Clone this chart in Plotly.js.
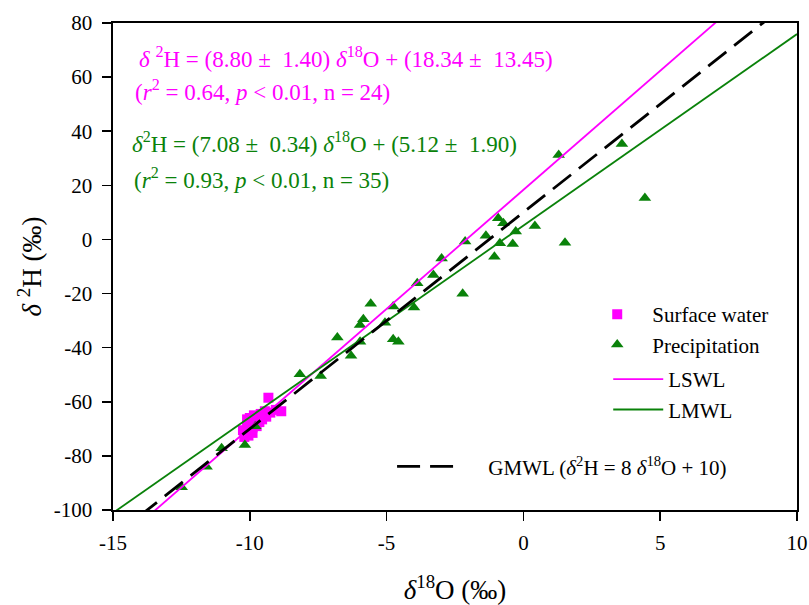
<!DOCTYPE html>
<html><head><meta charset="utf-8">
<script src="https://cdn.plot.ly/plotly-3.0.1.min.js"></script>
<style>html,body{margin:0;padding:0;background:#fff}</style>
</head><body><div id="chart" style="width:809px;height:605px"></div>
<script>
// Surface water samples (delta18O, delta2H)
const surfaceO18 = [-9.32, -8.85, -9.05, -9.25, -9.45, -9.60, -9.70, -9.85, -10.00, -9.55, -9.80, -9.95,
                    -10.10, -9.75, -10.00, -10.15, -9.90, -10.05, -10.20, -9.65, -10.10, -9.40, -9.90, -10.25];
const surfaceH2  = [-58.5, -63.5, -63.0, -64.0, -63.5, -64.5, -65.5, -65.0, -66.0, -66.5, -67.0, -68.0,
                    -68.5, -69.0, -70.0, -71.0, -71.5, -72.5, -73.0, -67.5, -66.5, -65.5, -69.5, -70.5];
// Precipitation samples
const precipO18 = [1.29, 3.60, 4.44, -0.92, -0.73, 0.42, -0.28, -1.37, -2.13, -0.86, -0.39, 1.52,
                   -1.06, -2.99, -3.29, -3.88, -2.22, -4.76, -4.00, -5.58, -5.85, -5.97, -5.06, -4.76,
                   -4.57, -6.80, -6.30, -8.17, -7.41, -11.03, -10.18, -11.58, -12.49, -5.97, -9.80];
const precipH2  = [31.2, 35.3, 15.3, 7.8, 6.0, 5.0, 2.9, 1.4, -0.8, -1.4, -1.7, -1.2,
                   -6.4, -7.0, -13.1, -16.2, -20.1, -24.8, -25.2, -23.8, -29.5, -31.6, -30.8, -36.9,
                   -37.8, -36.2, -43.0, -49.8, -50.5, -77.2, -76.0, -84.0, -91.6, -37.8, -69.0];
// Water lines: LSWL, LMWL, GMWL
const lineNames = ['LSWL', 'LMWL', 'GMWL'];
const lineSlopes = [8.80, 7.08, 8];
const lineIntercepts = [18.34, 5.12, 10];
const xRange = [-15, 10];
const yRange = [-100, 80];
const xTicks = [-15, -10, -5, 0, 5, 10];
const yTicks = [-100, -80, -60, -40, -20, 0, 20, 40, 60, 80];

const MAG = '#ff00ff', GRN = '#0a820a', FONT = 'Liberation Serif, Times New Roman, serif';
const lineColors = [MAG, GRN, '#000000'];
const lineWidths = [1.8, 1.8, 2.8];
const lineDash = ['solid', 'solid', '23px,10px'];
const lineLegends = ['legend3', 'legend3', 'legend2'];

const traces = [
  {x: surfaceO18, y: surfaceH2, mode: 'markers', type: 'scatter', name: 'Surface water',
   marker: {symbol: 'square', size: 10, color: MAG}, legend: 'legend', legendrank: 1},
  {x: precipO18, y: precipH2, mode: 'markers', type: 'scatter', name: 'Precipitation',
   marker: {symbol: 'triangle-up', size: 11, color: GRN}, legend: 'legend', legendrank: 2}
];
lineNames.forEach((n, i) => {
  traces.push({
    x: xRange, y: xRange.map(v => lineSlopes[i] * v + lineIntercepts[i]),
    mode: 'lines', type: 'scatter',
    name: n === 'GMWL' ? '\u00A0\u00A0\u00A0\u00A0\u00A0GMWL (<i>δ</i><sup>2</sup>H = 8 <i>δ</i><sup>18</sup>O + 10)' : n,
    line: {color: lineColors[i], width: lineWidths[i], dash: lineDash[i]},
    legend: lineLegends[i], legendrank: 3 + i
  });
});

const ann = (text, x, y, color) => ({text, x, y, xref: 'x', yref: 'y', xanchor: 'left', yanchor: 'middle',
  showarrow: false, font: {family: FONT, size: 23, color}});

const legendBase = {xanchor: 'left', yanchor: 'top', bgcolor: 'rgba(0,0,0,0)',
  font: {family: FONT, size: 21, color: '#000'}, tracegroupgap: 0};

const layout = {
  width: 809, height: 605,
  margin: {l: 113, r: 12, t: 23, b: 95},
  paper_bgcolor: '#fff', plot_bgcolor: '#fff',
  font: {family: FONT, size: 21, color: '#000'},
  showlegend: true,
  xaxis: {range: xRange, tickmode: 'array', tickvals: xTicks, ticktext: xTicks.map(String),
    showgrid: false, zeroline: false, showline: true, mirror: true,
    linecolor: '#000', linewidth: 1.6, ticks: 'outside', ticklen: 9, tickcolor: '#000', tickwidth: 1.5,
    tickfont: {family: FONT, size: 21}, ticklabelstandoff: 4,
    title: {text: '<i>δ</i><sup>18</sup>O (‰)', font: {family: FONT, size: 27}, standoff: 26}},
  yaxis: {range: yRange, tickmode: 'array', tickvals: yTicks, ticktext: yTicks.map(String),
    showgrid: false, zeroline: false, showline: true, mirror: true,
    linecolor: '#000', linewidth: 1.6, ticks: 'outside', ticklen: 9, tickcolor: '#000', tickwidth: 1.5,
    tickfont: {family: FONT, size: 21}, ticklabelstandoff: 6,
    title: {text: '<i>δ</i> <sup>2</sup>H (‰)', font: {family: FONT, size: 27}, standoff: 4}},
  legend: Object.assign({x: 0.686, y: 0.4435, itemwidth: 60}, legendBase),
  legend3: Object.assign({x: 0.724, y: 0.31, itemwidth: 50}, legendBase),
  legend2: Object.assign({x: 0.408, y: 0.131, itemwidth: 60}, legendBase),
  annotations: [
    ann('<i>δ</i> <sup>2</sup>H = (8.80 ±  1.40) <i>δ</i><sup>18</sup>O + (18.34 ±  13.45)', -14.12, 67.1, MAG),
    ann('(<i>r</i><sup>2</sup> = 0.64, <i>p</i> < 0.01, n = 24)', -14.27, 55.2, MAG),
    ann('<i>δ</i><sup>2</sup>H = (7.08 ±  0.34) <i>δ</i><sup>18</sup>O + (5.12 ±  1.90)', -14.38, 35.7, GRN),
    ann('(<i>r</i><sup>2</sup> = 0.93, <i>p</i> < 0.01, n = 35)', -14.31, 22.7, GRN)
  ]
};
Plotly.newPlot('chart', traces, layout, {displayModeBar: false, staticPlot: true});
</script></body></html>
